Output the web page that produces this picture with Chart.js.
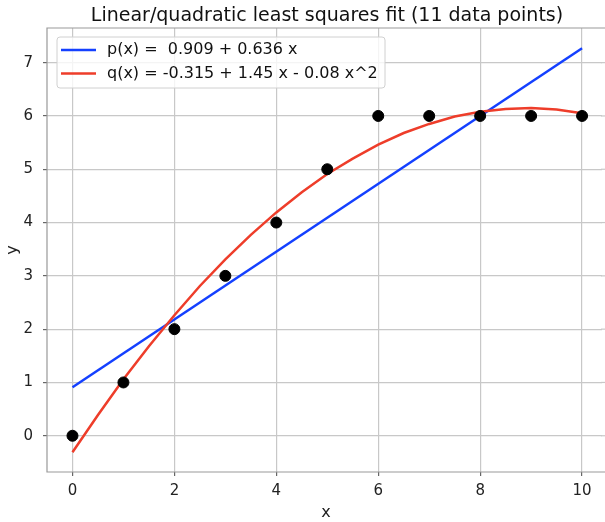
<!DOCTYPE html>
<html>
<head>
<meta charset="utf-8">
<script src="https://cdn.jsdelivr.net/npm/chart.js@4.4.1/dist/chart.umd.min.js"></script>
<style>
    html, body { margin: 0; padding: 0; background: #fff; overflow: hidden; }
    canvas { display: block; }
</style>
</head>
<body>
<canvas id="fitChart" width="605" height="522"></canvas>
<script>
// data points
const xData = [0, 1, 2, 3, 4, 5, 6, 7, 8, 9, 10];
const yData = [0, 1, 2, 3, 4, 5, 6, 6, 6, 6, 6];

// linear fit line (read at its ends)
const linX = [0, 10];
const linY = [0.91, 7.27];

// quadratic fit curve
const quadX = [0, 0.5, 1, 1.5, 2, 2.5, 3, 3.5, 4, 4.5, 5, 5.5, 6, 6.5, 7, 7.5, 8, 8.5, 9, 9.5, 10];
const quadY = [-0.31, 0.39, 1.06, 1.68, 2.26, 2.81, 3.31, 3.77, 4.19, 4.57, 4.91, 5.2, 5.46, 5.68, 5.85, 5.99, 6.08, 6.13, 6.15, 6.12, 6.05];

const titleText = 'Linear/quadratic least squares fit (11 data points)';
const legendLabels = ['p(x) =  0.909 + 0.636 x', 'q(x) = -0.315 + 1.45 x - 0.08 x^2'];
const xTicks = [0, 2, 4, 6, 8, 10];
const yTicks = [0, 1, 2, 3, 4, 5, 6, 7];

const blue = '#1440ff';
const red = '#ee3d2a';
const gridColor = '#c8c8c8';
const font = 'DejaVu Sans';

function pairs(xs, ys) {
    return xs.map((x, i) => ({ x: x, y: ys[i] }));
}

// spines, title over the plot area, legend inside the plot
const framePlugin = {
    id: 'frame',
    afterDraw(chart) {
        const ctx = chart.ctx;
        const a = chart.chartArea;
        const yScale = chart.scales.y;
        ctx.save();

        // the axes run on past the right edge: no right spine
        ctx.fillStyle = '#fff';
        ctx.fillRect(a.right - 3, a.top + 1, 3, a.bottom - a.top - 2);
        ctx.strokeStyle = gridColor;
        ctx.lineWidth = 1.2;
        yTicks.forEach(v => {
            const py = yScale.getPixelForValue(v);
            ctx.beginPath();
            ctx.moveTo(a.right - 4, py);
            ctx.lineTo(a.right, py);
            ctx.stroke();
        });

        ctx.strokeStyle = '#999';
        ctx.beginPath();
        ctx.moveTo(a.right + 5, a.top);
        ctx.lineTo(a.left, a.top);
        ctx.lineTo(a.left, a.bottom);
        ctx.lineTo(a.right + 5, a.bottom);
        ctx.stroke();

        // title centred on the (uncropped) axes
        ctx.fillStyle = '#111';
        ctx.font = '19px "' + font + '"';
        ctx.textAlign = 'center';
        ctx.textBaseline = 'middle';
        ctx.fillText(titleText, 327, 16);

        // legend box
        const bx = 57, by = 37, bw = 328, bh = 51;
        ctx.fillStyle = 'rgba(255,255,255,0.8)';
        ctx.strokeStyle = '#d0d0d0';
        ctx.lineWidth = 1;
        ctx.beginPath();
        ctx.roundRect(bx, by, bw, bh, 3);
        ctx.fill();
        ctx.stroke();

        const colors = [blue, red];
        ctx.font = '16px "' + font + '"';
        ctx.textAlign = 'left';
        legendLabels.forEach((t, i) => {
            const ly = 50 + i * 23.5;
            ctx.strokeStyle = colors[i];
            ctx.lineWidth = 2.5;
            ctx.beginPath();
            ctx.moveTo(61, ly);
            ctx.lineTo(96, ly);
            ctx.stroke();
            ctx.fillStyle = '#111';
            ctx.fillText(t, 107, ly);
        });
        ctx.restore();
    }
};

const ctx = document.getElementById('fitChart').getContext('2d');
new Chart(ctx, {
    type: 'scatter',
    data: {
        datasets: [
            {
                label: 'data',
                data: pairs(xData, yData),
                backgroundColor: '#000',
                borderColor: '#000',
                pointRadius: 5.5,
                order: 0
            },
            {
                label: legendLabels[0],
                data: pairs(linX, linY),
                showLine: true,
                borderColor: blue,
                borderWidth: 2.5,
                pointRadius: 0,
                order: 2
            },
            {
                label: legendLabels[1],
                data: pairs(quadX, quadY),
                showLine: true,
                borderColor: red,
                borderWidth: 2.5,
                pointRadius: 0,
                order: 1
            }
        ]
    },
    options: {
        responsive: false,
        animation: false,
        layout: { autoPadding: false, padding: { left: 0, right: 0, top: 28, bottom: 0 } },
        plugins: {
            legend: { display: false },
            tooltip: { enabled: false },
            title: { display: false }
        },
        scales: {
            x: {
                type: 'linear',
                min: -0.5,
                max: 10.45,
                afterFit(scale) { scale.height = 50; },
                afterBuildTicks(scale) { scale.ticks = xTicks.map(v => ({ value: v })); },
                ticks: { color: '#222', font: { family: font, size: 15 }, padding: 6, maxRotation: 0 },
                grid: { color: gridColor, lineWidth: 1.2, tickLength: 4, tickColor: '#666' },
                border: { display: false },
                title: { display: true, text: 'x', color: '#222', font: { family: font, size: 16 }, padding: { top: 0, bottom: 0 } }
            },
            y: {
                type: 'linear',
                min: -0.68,
                max: 7.65,
                afterFit(scale) { scale.width = 47; },
                afterBuildTicks(scale) { scale.ticks = yTicks.map(v => ({ value: v })); },
                ticks: { color: '#222', font: { family: font, size: 15 }, padding: 10 },
                grid: { color: gridColor, lineWidth: 1.2, tickLength: 4, tickColor: '#666' },
                border: { display: false },
                title: { display: true, text: 'y', color: '#222', font: { family: font, size: 16 }, padding: { top: 3, bottom: 0 } }
            }
        }
    },
    plugins: [framePlugin]
});
</script>
</body>
</html>
